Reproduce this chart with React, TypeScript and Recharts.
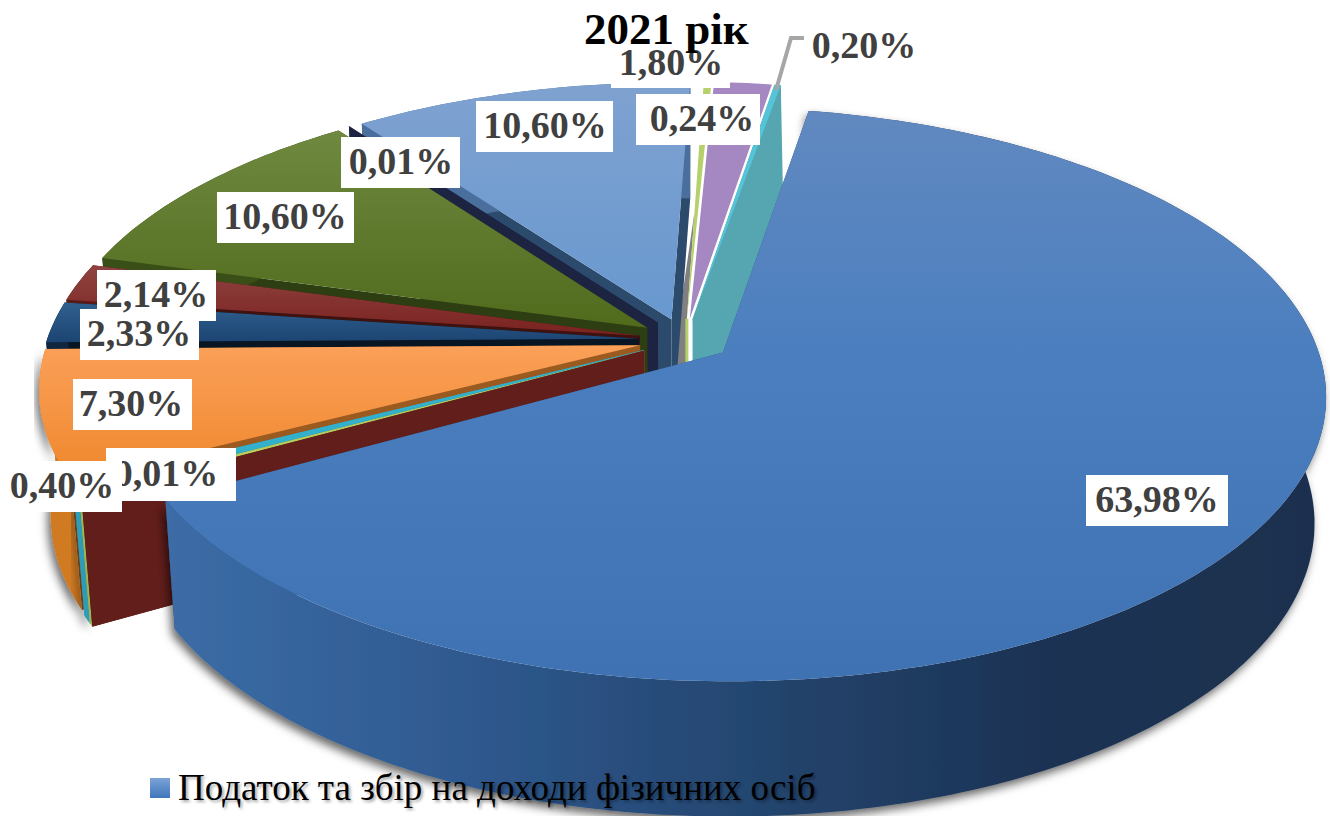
import { Legend, Pie, PieChart } from 'recharts';

// 3D pie: Recharts computes the angles, the sector shape projects them with perspective
const categories = ['teal', 'purple', 'lime', 'lightBlue', 'darkNavy', 'green', 'red', 'navy', 'orange', 'cyan', 'limeLow', 'maroon', 'income'];
const values = [0.2, 1.8, 0.24, 10.6, 0.01, 10.6, 2.14, 2.33, 7.3, 0.4, 0.15, 0.01, 63.98];
const legendLabel = 'Податок та збір на доходи фізичних осіб';
const titleText = '2021 рік';

const data = categories.map((name, i) => ({ name, value: values[i] }));
const reversedData = [...data].reverse();

const FIRST_ANGLE = 80;
const PERSPECTIVE = 0.145;
const SQUASH = 0.468;
const EXPLODE = 0.078;
const DEPTH = 124.5;
const BOTTOM_SHRINK = 0.982;
const TOP_ONLY = ['purple', 'lime'];

const COLORS: Record<string, { top: string; rim: string; side: string }> = {
  teal: { top: '#55c3d8', rim: '#55a6b0', side: '#55a6b0' },
  purple: { top: '#a588c2', rim: '#8d6fa8', side: '#8d6fa8' },
  lime: { top: '#b6d06c', rim: '#808080', side: '#808080' },
  lightBlue: { top: 'url(#topLightBlue)', rim: '#4a6f9c', side: '#2c4a6c' },
  darkNavy: { top: '#1c2442', rim: '#1c2442', side: '#1c2442' },
  green: { top: 'url(#topGreen)', rim: '#3a4f18', side: '#2d3f12' },
  red: { top: 'url(#topRed)', rim: '#5c1a17', side: '#3f1210' },
  navy: { top: 'url(#topNavy)', rim: '#10263f', side: '#081523' },
  orange: { top: 'url(#topOrange)', rim: '#d07a24', side: '#9a5a20' },
  cyan: { top: '#33b1cc', rim: '#2f9db8', side: '#2f9db8' },
  limeLow: { top: '#b7cc5c', rim: '#a2b64e', side: '#a2b64e' },
  maroon: { top: '#6b2420', rim: '#621e1b', side: '#621e1b' },
  income: { top: 'url(#topIncome)', rim: 'url(#wallIncome)', side: '#2a4f80' },
};

// label boxes placed by hand in the original: x, y, width, height, text centre
const LABEL_BOXES: Record<string, number[]> = {
  income: [1086, 475, 142, 51, 1157],
  maroon: [106, 448, 130, 53, 166],
  cyan: [2, 461, 120, 51, 62],
  orange: [73, 379, 119, 51, 131],
  navy: [80, 309, 119, 51, 139],
  red: [97, 270, 119, 51, 156],
  green: [217, 192, 137, 51, 285],
  darkNavy: [341, 137, 119, 51, 401],
  lightBlue: [476, 101, 137, 51, 545],
  lime: [636, 94, 124, 51, 702],
  purple: [611, 41, 119, 47, 671],
  teal: [812, 21, 101, 51, 864],
};

const formatValue = (v: number) => `${v.toFixed(2).replace('.', ',')}%`;

function project(cx: number, cy: number, r: number, u: number, v: number, low: boolean) {
  const w = 1 + PERSPECTIVE * v;
  let x = cx + (r * u) / w;
  let y = cy - (r * SQUASH * v) / w;
  if (low) {
    y += DEPTH / Math.sqrt(w);
    x = cx + (x - cx) * BOTTOM_SHRINK;
  }
  return [x, y];
}

const toPoints = (pts: number[][]) => pts.map((p) => `${p[0].toFixed(1)},${p[1].toFixed(1)}`).join(' ');

function Slice3D(props: any) {
  const { cx, cy, outerRadius, startAngle, endAngle, index } = props;
  const name = categories[index];
  const colors = COLORS[name];
  const rad = Math.PI / 180;
  const mid = ((startAngle + endAngle) / 2) * rad;
  const ox = EXPLODE * Math.cos(mid);
  const oy = EXPLODE * Math.sin(mid);
  const a0 = startAngle * rad;
  const a1 = endAngle * rad;
  const steps = Math.max(2, Math.ceil(Math.abs(endAngle - startAngle)));
  const rimAngles = Array.from({ length: steps + 1 }, (_, i) => a0 + ((a1 - a0) * i) / steps);
  const at = (u: number, v: number, low: boolean) => project(cx, cy, outerRadius, u, v, low);
  const rimTop = rimAngles.map((a) => at(ox + Math.cos(a), oy + Math.sin(a), false));
  const rimLow = rimAngles.map((a) => at(ox + Math.cos(a), oy + Math.sin(a), true));
  const apexTop = at(ox, oy, false);
  const apexLow = at(ox, oy, true);
  const hasShadow = ['income', 'maroon', 'orange', 'cyan'].includes(name);
  const face = <polygon points={toPoints([apexTop, ...rimTop])} fill={colors.top} />;
  if (TOP_ONLY.includes(name)) {
    if (name !== 'lime') return face;
    // grey seam left of the thin lime slice, running down into the main slice
    const edge = rimTop[steps];
    const seamTop = [apexTop[0] + (edge[0] - apexTop[0]) * 0.45, apexTop[1] + (edge[1] - apexTop[1]) * 0.45];
    return (
      <g>
        <polygon points={toPoints([seamTop, apexTop, apexLow, [apexLow[0] - 26, apexLow[1]]])} fill={colors.side} />
        <line x1={apexTop[0]} y1={apexTop[1]} x2={apexLow[0]} y2={apexLow[1]} stroke={colors.top} strokeWidth={3} />
        {face}
      </g>
    );
  }
  // teal wall runs right up to the main slice, no white gap
  const wallNudge = name === 'teal' ? 8 : 0;
  const wallRim = [rimLow[0][0] + wallNudge / 2, rimLow[0][1]];
  const wallApex = [apexLow[0] + wallNudge, apexLow[1]];
  return (
    <g>
      <polygon points={toPoints([apexTop, rimTop[0], wallRim, wallApex])} fill={colors.side} />
      <polygon points={toPoints([apexTop, rimTop[steps], rimLow[steps], apexLow])} fill={colors.side} />
      <polygon
        points={toPoints([...rimTop, ...[...rimLow].reverse()])}
        fill={colors.rim}
        filter={hasShadow ? 'url(#wallShadow)' : undefined}
      />
      {face}
    </g>
  );
}

function SliceLabel(props: any) {
  const name = props.name ?? props.payload?.name;
  const box = LABEL_BOXES[name];
  if (!box) return null;
  const [x, y, w, h, textX] = box;
  const isTeal = name === 'teal';
  return (
    <g>
      {!isTeal && <rect x={x} y={y} width={w} height={h} fill="#ffffff" />}
      {isTeal && <path d="M804 38 L791 38 L776 90" fill="none" stroke="#a6a6a6" strokeWidth={4} />}
      <text
        x={textX}
        y={y + h * 0.72}
        textAnchor="middle"
        fontFamily="'Liberation Serif', serif"
        fontWeight="bold"
        fontSize={38}
        fill="#404040"
      >
        {formatValue(props.value)}
      </text>
    </g>
  );
}

function LegendRow() {
  return (
    <div style={{ display: 'flex', alignItems: 'center', fontFamily: "'Liberation Serif', serif", fontSize: 37, color: '#000', textShadow: '2px 2px 3px rgba(0,0,0,0.35)', whiteSpace: 'nowrap' }}>
      <span style={{ width: 20, height: 20, marginRight: 8, background: 'linear-gradient(#7ba3d6, #3f77bd)' }} />
      {legendLabel}
    </div>
  );
}

export default function App() {
  return (
    <div style={{ position: 'absolute', left: 0, top: 0, width: 1330, height: 816, overflow: 'hidden', background: '#fff' }}>
      <PieChart width={1330} height={816} margin={{ top: 0, right: 0, bottom: 0, left: 0 }}>
        <defs>
          <linearGradient id="topIncome" x1="0" y1="0" x2="0" y2="1">
            <stop offset="0" stopColor="#6189c0" />
            <stop offset="0.45" stopColor="#4a7ebf" />
            <stop offset="1" stopColor="#3e72b2" />
          </linearGradient>
          <linearGradient id="wallIncome" x1="0" y1="0" x2="1" y2="0">
            <stop offset="0" stopColor="#3c6ca6" />
            <stop offset="0.25" stopColor="#2f5a90" />
            <stop offset="0.5" stopColor="#244670" />
            <stop offset="0.75" stopColor="#1c3354" />
            <stop offset="1" stopColor="#1b2f4e" />
          </linearGradient>
          <linearGradient id="topLightBlue" x1="0" y1="0" x2="0" y2="1">
            <stop offset="0" stopColor="#7fa2d0" />
            <stop offset="1" stopColor="#6898cf" />
          </linearGradient>
          <linearGradient id="topGreen" x1="0" y1="0" x2="0" y2="1">
            <stop offset="0" stopColor="#6f8a40" />
            <stop offset="1" stopColor="#506b1c" />
          </linearGradient>
          <linearGradient id="topRed" x1="0" y1="0" x2="0" y2="1">
            <stop offset="0" stopColor="#8f4340" />
            <stop offset="1" stopColor="#7a2220" />
          </linearGradient>
          <linearGradient id="topNavy" x1="0" y1="0" x2="0" y2="1">
            <stop offset="0" stopColor="#30608f" />
            <stop offset="1" stopColor="#1c4472" />
          </linearGradient>
          <linearGradient id="topOrange" x1="0" y1="0" x2="0" y2="1">
            <stop offset="0" stopColor="#fba059" />
            <stop offset="1" stopColor="#ef872c" />
          </linearGradient>
          <filter id="wallShadow" x="-10%" y="-10%" width="120%" height="125%">
            <feDropShadow dx={-3} dy={5} stdDeviation={5} floodColor="#000" floodOpacity={0.6} />
          </filter>
        </defs>
        <Pie
          data={data}
          dataKey="value"
          nameKey="name"
          cx={685}
          cy={340}
          outerRadius={592}
          startAngle={FIRST_ANGLE}
          endAngle={FIRST_ANGLE + 360}
          shape={Slice3D}
          stroke="none"
          label={false}
          isAnimationActive={false}
        />
        <Pie
          data={reversedData}
          dataKey="value"
          nameKey="name"
          cx={685}
          cy={340}
          outerRadius={592}
          startAngle={FIRST_ANGLE + 360}
          endAngle={FIRST_ANGLE}
          shape={() => null}
          stroke="none"
          label={SliceLabel}
          labelLine={false}
          isAnimationActive={false}
        />
        <Legend content={LegendRow} wrapperStyle={{ position: 'absolute', left: 150, top: 766, width: 700, height: 46 }} />
      </PieChart>
      <div style={{ position: 'absolute', left: 584, top: 3, fontFamily: "'Liberation Serif', serif", fontWeight: 'bold', fontSize: 45, lineHeight: '52px', color: '#000', whiteSpace: 'nowrap' }}>
        {titleText}
      </div>
    </div>
  );
}
